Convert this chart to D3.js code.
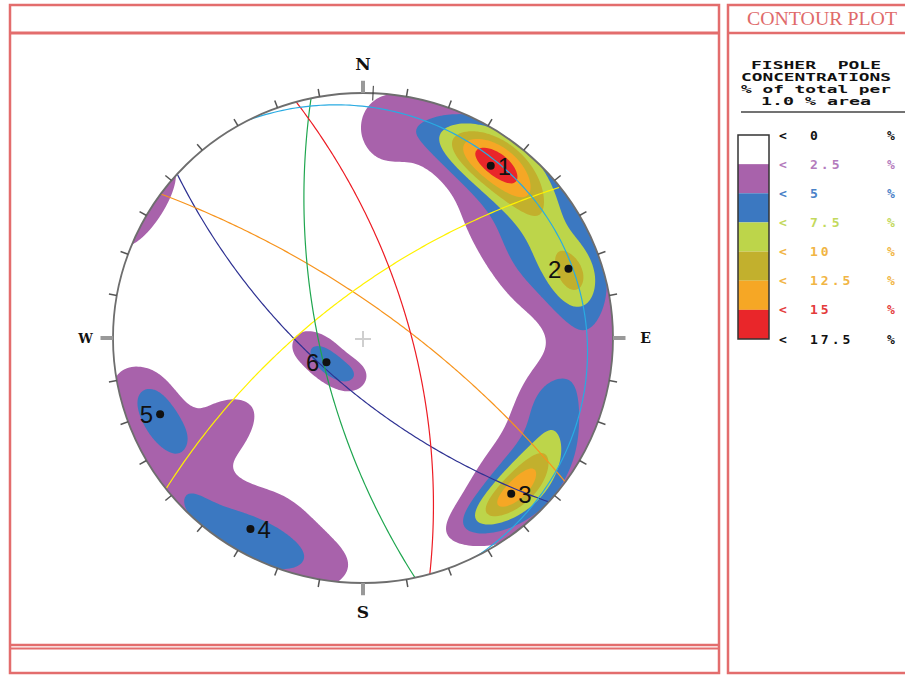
<!DOCTYPE html>
<html>
<head>
<meta charset="utf-8">
<script src="https://cdn.jsdelivr.net/npm/d3@7"></script>
<style>
  body { margin: 0; background: #fff; }
  svg { display: block; }
</style>
</head>
<body>
<svg id="chart" width="905" height="675"></svg>
<script>
// poles (trend / plunge, degrees)
const poleIds = ["1", "2", "3", "4", "5", "6"];
const poleTrend = [36, 71, 137, 210, 249, 236];
const polePlunge = [8, 8, 8, 6, 8, 70];
const poleLabelSide = ["right", "left", "right", "right", "left", "left"];

// great circles (dip direction / dip)
const planeDipDir = [222, 36, 322, 258, 74.5, 63];
const planeDip = [68, 75, 70, 70, 68.6, 7];
const planeColors = ["#2e3192", "#f7941d", "#fff200", "#1fa64f", "#ed1c24", "#29abe2"];

// pole concentration components (trend, plunge, peak %, spread along trend, spread along plunge)
const compTrend   = [35, 38, 52, 74, 68, 6, 93, 138, 132, 130, 112, 108, 302, 249, 258, 238, 205, 206, 225, 226, 263, 236, 200];
const compPlunge  = [6.5, 7, 14, 7, 12, 9, 5, 8, 7, 12, 8, 15, -3, 8, 1, 24, 3, 14, 3, 1, 64, 70.5, 71.5];
const compPeak    = [8.5, 6, 4, 5.5, 3.5, 3.0, 3, 6.8, 5.5, 3, 1.6, 2.6, 4, 5.5, 2, 3.5, 4.0, 2.4, 1.2, 1.5, 3.3, 5.0, 4.5];
const compSpreadT = [10, 15, 19, 7, 12, 8, 10, 10, 12, 16, 9, 8, 11.5, 8, 7, 8, 16, 16, 22, 6, 7, 7, 7];
const compSpreadP = [5, 6, 14, 5, 10, 10, 8, 3.5, 6, 11, 9, 6, 6, 4.5, 5, 12, 6, 12, 8, 4, 7, 6, 6];

// legend
const levels = [2.5, 5, 7.5, 10, 12.5, 15];
const legendLabels = ["0", "2.5", "5", "7.5", "10", "12.5", "15", "17.5"];
const levelColors = ["#ffffff", "#a862ab", "#3b78c1", "#bdd54a", "#c2b02d", "#f6a725", "#e9262a"];
const legendTextColors = ["#111111", "#b47bbd", "#4a82c8", "#c3d95c", "#f1b544", "#f1b544", "#e43b3b", "#111111"];

const rad = Math.PI / 180;
const svg = d3.select("#chart");
const frameColor = "#e36d6d";

// frame
svg.append("rect").attr("x", 10).attr("y", 5).attr("width", 709).attr("height", 668)
  .attr("fill", "none").attr("stroke", frameColor).attr("stroke-width", 2.5);
svg.append("line").attr("x1", 10).attr("x2", 719).attr("y1", 33).attr("y2", 33)
  .attr("stroke", frameColor).attr("stroke-width", 3);
svg.append("line").attr("x1", 10).attr("x2", 719).attr("y1", 645).attr("y2", 645)
  .attr("stroke", frameColor).attr("stroke-width", 2.5);
svg.append("line").attr("x1", 10).attr("x2", 719).attr("y1", 648.5).attr("y2", 648.5)
  .attr("stroke", frameColor).attr("stroke-width", 2);
svg.append("rect").attr("x", 728).attr("y", 5).attr("width", 185).attr("height", 668)
  .attr("fill", "none").attr("stroke", frameColor).attr("stroke-width", 2.5);
svg.append("line").attr("x1", 728).attr("x2", 905).attr("y1", 33).attr("y2", 33)
  .attr("stroke", frameColor).attr("stroke-width", 2.5);

// stereonet scales (equal angle, lower hemisphere)
const cx = 363, cy = 338, rx = 250, ry = 245;
const xs = d3.scaleLinear().domain([-1, 1]).range([cx - rx, cx + rx]);
const ys = d3.scaleLinear().domain([-1, 1]).range([cy + ry, cy - ry]);

function project(trend, plunge) {
  const r = Math.tan((90 - plunge) / 2 * rad);
  return [r * Math.sin(trend * rad), r * Math.cos(trend * rad)];
}

svg.append("clipPath").attr("id", "net")
  .append("ellipse").attr("cx", cx).attr("cy", cy).attr("rx", rx).attr("ry", ry);

// density grid
const n = 241, ext = 1.1, step = 2 * ext / (n - 1);
const values = new Float64Array(n * n);
for (let j = 0; j < n; j++) {
  const v = ext - j * step;
  for (let i = 0; i < n; i++) {
    const u = -ext + i * step;
    const r = Math.hypot(u, v);
    const t = (Math.atan2(u, v) / rad + 360) % 360;
    const p = 90 - 2 * Math.atan(r) / rad;
    let s = 0;
    for (let k = 0; k < compTrend.length; k++) {
      let dt = ((t - compTrend[k]) % 360 + 540) % 360 - 180;
      dt *= Math.cos((p + compPlunge[k]) / 2 * rad);
      const dp = p - compPlunge[k];
      s += compPeak[k] * Math.exp(-0.5 * (dt * dt / (compSpreadT[k] ** 2) + dp * dp / (compSpreadP[k] ** 2)));
    }
    values[j * n + i] = s;
  }
}

const contours = d3.contours().size([n, n]).thresholds(levels)(values);
const gridToPx = d3.geoTransform({
  point(x, y) {
    this.stream.point(xs(-ext + (x - 0.5) * step), ys(ext - (y - 0.5) * step));
  }
});
const cpath = d3.geoPath(gridToPx);

const net = svg.append("g").attr("clip-path", "url(#net)");
net.selectAll("path.level")
  .data(contours)
  .enter().append("path")
  .attr("class", "level")
  .attr("d", cpath)
  .attr("fill", (d, i) => levelColors[i + 1]);

// great circles
function greatCircle(dipDir, dip) {
  const sa = (dipDir - 90) * rad;
  const s = [Math.sin(sa), Math.cos(sa), 0];
  const d = [Math.sin(dipDir * rad) * Math.cos(dip * rad), Math.cos(dipDir * rad) * Math.cos(dip * rad), Math.sin(dip * rad)];
  const pts = [];
  for (let a = 0; a <= 180; a += 1) {
    const c = Math.cos(a * rad), sn = Math.sin(a * rad);
    const e = c * s[0] + sn * d[0], no = c * s[1] + sn * d[1], dn = c * s[2] + sn * d[2];
    pts.push(project(Math.atan2(e, no) / rad, Math.asin(Math.min(1, dn)) / rad));
  }
  return pts;
}
const line = d3.line().x(d => xs(d[0])).y(d => ys(d[1]));
net.selectAll("path.plane")
  .data(planeDipDir.map((dd, i) => greatCircle(dd, planeDip[i])))
  .enter().append("path")
  .attr("class", "plane")
  .attr("d", line)
  .attr("fill", "none")
  .attr("stroke", (d, i) => planeColors[i])
  .attr("stroke-width", 1.2);

// primitive circle and ticks
svg.append("ellipse").attr("cx", cx).attr("cy", cy).attr("rx", rx).attr("ry", ry)
  .attr("fill", "none").attr("stroke", "#6e6e6e").attr("stroke-width", 1.8);
const tickAz = d3.range(10, 360, 10).filter(a => a % 90 !== 0);
svg.selectAll("line.tick")
  .data(tickAz)
  .enter().append("line")
  .attr("class", "tick")
  .attr("x1", a => xs(Math.sin(a * rad)))
  .attr("y1", a => ys(Math.cos(a * rad)))
  .attr("x2", a => xs(1.032 * Math.sin(a * rad)))
  .attr("y2", a => ys(1.032 * Math.cos(a * rad)))
  .attr("stroke", "#555").attr("stroke-width", 1.5);
svg.selectAll("line.cardinal")
  .data([0, 90, 180, 270])
  .enter().append("line")
  .attr("class", "cardinal")
  .attr("x1", a => xs(Math.sin(a * rad)))
  .attr("y1", a => ys(Math.cos(a * rad)))
  .attr("x2", a => xs(1.05 * Math.sin(a * rad)))
  .attr("y2", a => ys(1.05 * Math.cos(a * rad)))
  .attr("stroke", "#999").attr("stroke-width", 4);
svg.append("line")
  .attr("x1", xs(0.97 * Math.sin(2.3 * rad))).attr("y1", ys(0.97 * Math.cos(2.3 * rad)))
  .attr("x2", xs(1.03 * Math.sin(2.3 * rad))).attr("y2", ys(1.03 * Math.cos(2.3 * rad)))
  .attr("stroke", "#333").attr("stroke-width", 1);

// centre cross
svg.append("path")
  .attr("d", `M${cx - 8},${cy + 1}H${cx + 8}M${cx},${cy - 7}V${cy + 9}`)
  .attr("stroke", "#cfcfcf").attr("stroke-width", 2).attr("fill", "none");

// compass letters
const compass = [["N", 0, 1.12, 17], ["S", 180, 1.12, 17], ["W", 270, 1.11, 13], ["E", 90, 1.13, 14]];
svg.selectAll("text.compass")
  .data(compass)
  .enter().append("text")
  .attr("class", "compass")
  .attr("x", d => xs(d[2] * Math.sin(d[1] * rad)))
  .attr("y", d => ys(d[2] * Math.cos(d[1] * rad)))
  .attr("text-anchor", "middle")
  .attr("dominant-baseline", "central")
  .attr("font-family", "DejaVu Serif")
  .attr("font-weight", "bold")
  .attr("font-size", d => d[3])
  .attr("fill", "#111")
  .text(d => d[0]);

// poles
const poles = poleIds.map((id, i) => ({ id, xy: project(poleTrend[i], polePlunge[i]), side: poleLabelSide[i] }));
svg.selectAll("circle.pole")
  .data(poles)
  .enter().append("circle")
  .attr("class", "pole")
  .attr("cx", d => xs(d.xy[0]))
  .attr("cy", d => ys(d.xy[1]))
  .attr("r", 4)
  .attr("fill", "#111");
svg.selectAll("text.pole")
  .data(poles)
  .enter().append("text")
  .attr("class", "pole")
  .attr("x", d => xs(d.xy[0]) + (d.side === "right" ? 7 : -7))
  .attr("y", d => ys(d.xy[1]) + 9)
  .attr("text-anchor", d => d.side === "right" ? "start" : "end")
  .attr("font-family", "Liberation Sans, Arial, sans-serif")
  .attr("font-size", 24)
  .attr("fill", "#111")
  .text(d => d.id);

// right panel
svg.append("text")
  .attr("x", 747).attr("y", 25)
  .attr("font-family", "Liberation Serif, serif")
  .attr("font-size", 18)
  .attr("fill", "#e06a6a")
  .attr("textLength", 150).attr("lengthAdjust", "spacingAndGlyphs")
  .text("CONTOUR PLOT");

const header = [["FISHER  POLE", 69, 130], ["CONCENTRATIONS", 81, 150], ["% of total per", 93, 150], ["1.0 % area", 105, 110]];
svg.selectAll("text.head")
  .data(header)
  .enter().append("text")
  .attr("class", "head")
  .attr("x", d => 816 - d[2] / 2)
  .attr("y", d => d[1])
  .attr("font-family", "DejaVu Sans Mono, monospace")
  .attr("font-weight", "bold")
  .attr("font-size", 10)
  .attr("fill", "#111")
  .attr("textLength", d => d[2]).attr("lengthAdjust", "spacingAndGlyphs")
  .attr("xml:space", "preserve")
  .text(d => d[0]);
svg.append("line").attr("x1", 741).attr("x2", 905).attr("y1", 112).attr("y2", 112)
  .attr("stroke", "#444").attr("stroke-width", 1.5);

const ly = d3.scaleLinear().domain([0, levelColors.length]).range([135, 339]);
svg.selectAll("rect.key")
  .data(levelColors)
  .enter().append("rect")
  .attr("class", "key")
  .attr("x", 738).attr("width", 31)
  .attr("y", (d, i) => ly(i))
  .attr("height", (d, i) => ly(i + 1) - ly(i))
  .attr("fill", d => d);
svg.append("rect").attr("x", 738).attr("y", ly(0)).attr("width", 31).attr("height", ly(levelColors.length) - ly(0))
  .attr("fill", "none").attr("stroke", "#333").attr("stroke-width", 1.5);

const rows = svg.selectAll("g.row")
  .data(legendLabels)
  .enter().append("g")
  .attr("class", "row")
  .attr("transform", (d, i) => `translate(0,${ly(i)})`)
  .attr("fill", (d, i) => legendTextColors[i])
  .attr("font-family", "DejaVu Sans Mono, monospace")
  .attr("font-weight", "bold")
  .attr("font-size", 13)
  .attr("dominant-baseline", "central");
rows.append("text").attr("x", 779).text("<");
rows.append("text").attr("x", 810).attr("letter-spacing", 3).text(d => d);
rows.append("text").attr("x", 887).text("%");
</script>
</body>
</html>
